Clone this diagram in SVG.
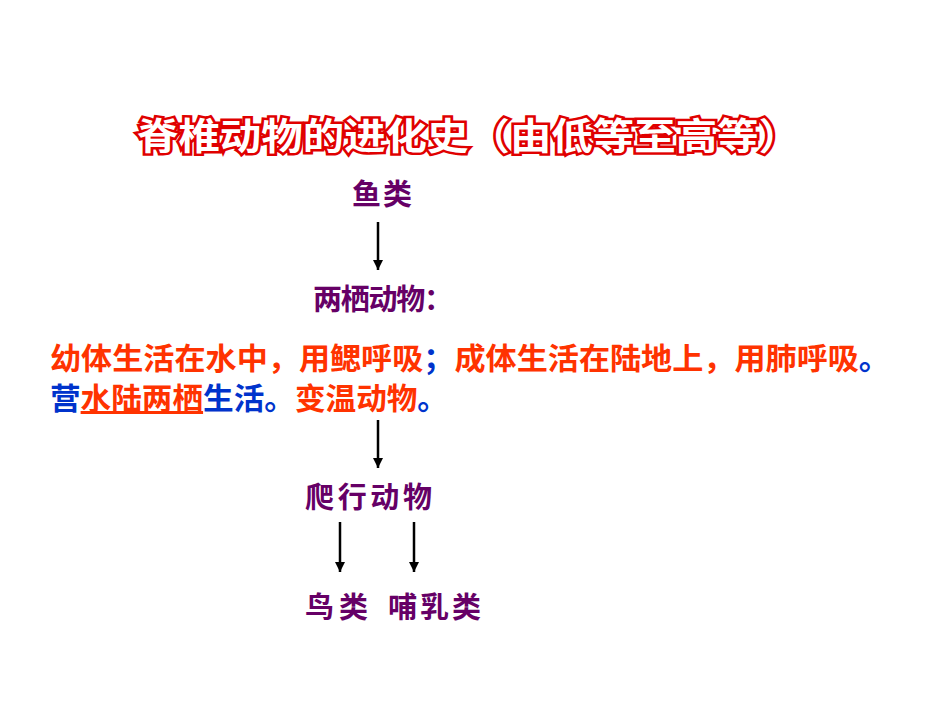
<svg xmlns="http://www.w3.org/2000/svg" width="950" height="713" viewBox="0 0 950 713">
<style>
text{font-family:"Noto Sans CJK SC","Liberation Sans",sans-serif;font-weight:bold}
.p{fill:#660066;font-size:29px}
.o{fill:#FF3300}
.b{fill:#0033CC}
.t{font-size:30px}
.h{fill:#fff;stroke:#E00000;stroke-width:5;paint-order:stroke;font-size:37px}
line{stroke:#000;stroke-width:2.5}
</style>
<defs><marker id="a" markerWidth="10" markerHeight="10" refX="10" refY="5" orient="auto" markerUnits="userSpaceOnUse" viewBox="0 0 10 10"><path d="M0,0L10,5L0,10Z" fill="#000"/></marker></defs>
<rect width="950" height="713" fill="#fff"/>
<g id="title"><text class="h" x="137" y="150" textLength="663" lengthAdjust="spacingAndGlyphs">脊椎动物的进化史（由低等至高等）</text></g>
<g id="fish"><text class="p" x="352" y="205" textLength="60">鱼类</text></g>
<g id="amph"><text class="p" x="313" y="310" textLength="140">两栖动物：</text></g>
<g id="desc">
<text class="t" x="50" y="369" textLength="840" lengthAdjust="spacingAndGlyphs"><tspan class="o">幼体生活在水中，用鳃呼吸</tspan><tspan class="b">；</tspan><tspan class="o">成体生活在陆地上，用肺呼吸</tspan><tspan class="b">。</tspan></text>
<text class="t" x="50" y="409" textLength="398" lengthAdjust="spacingAndGlyphs"><tspan class="b">营</tspan><tspan class="o" text-decoration="underline">水陆两栖</tspan><tspan class="b">生活。</tspan><tspan class="o">变温动物</tspan><tspan class="b">。</tspan></text>
</g>
<g id="rept"><text class="p" x="305" y="508" textLength="127">爬行动物</text></g>
<g id="bird"><text class="p" x="305" y="618" textLength="63">鸟类</text></g>
<g id="mamm"><text class="p" x="388" y="618" textLength="93">哺乳类</text></g>
<g id="connectors">
<line x1="378" y1="222" x2="378" y2="270" marker-end="url(#a)"/>
<line x1="378" y1="420" x2="378" y2="468" marker-end="url(#a)"/>
<line x1="340" y1="522" x2="340" y2="572" marker-end="url(#a)"/>
<line x1="414" y1="522" x2="414" y2="572" marker-end="url(#a)"/>
</g>
</svg>
